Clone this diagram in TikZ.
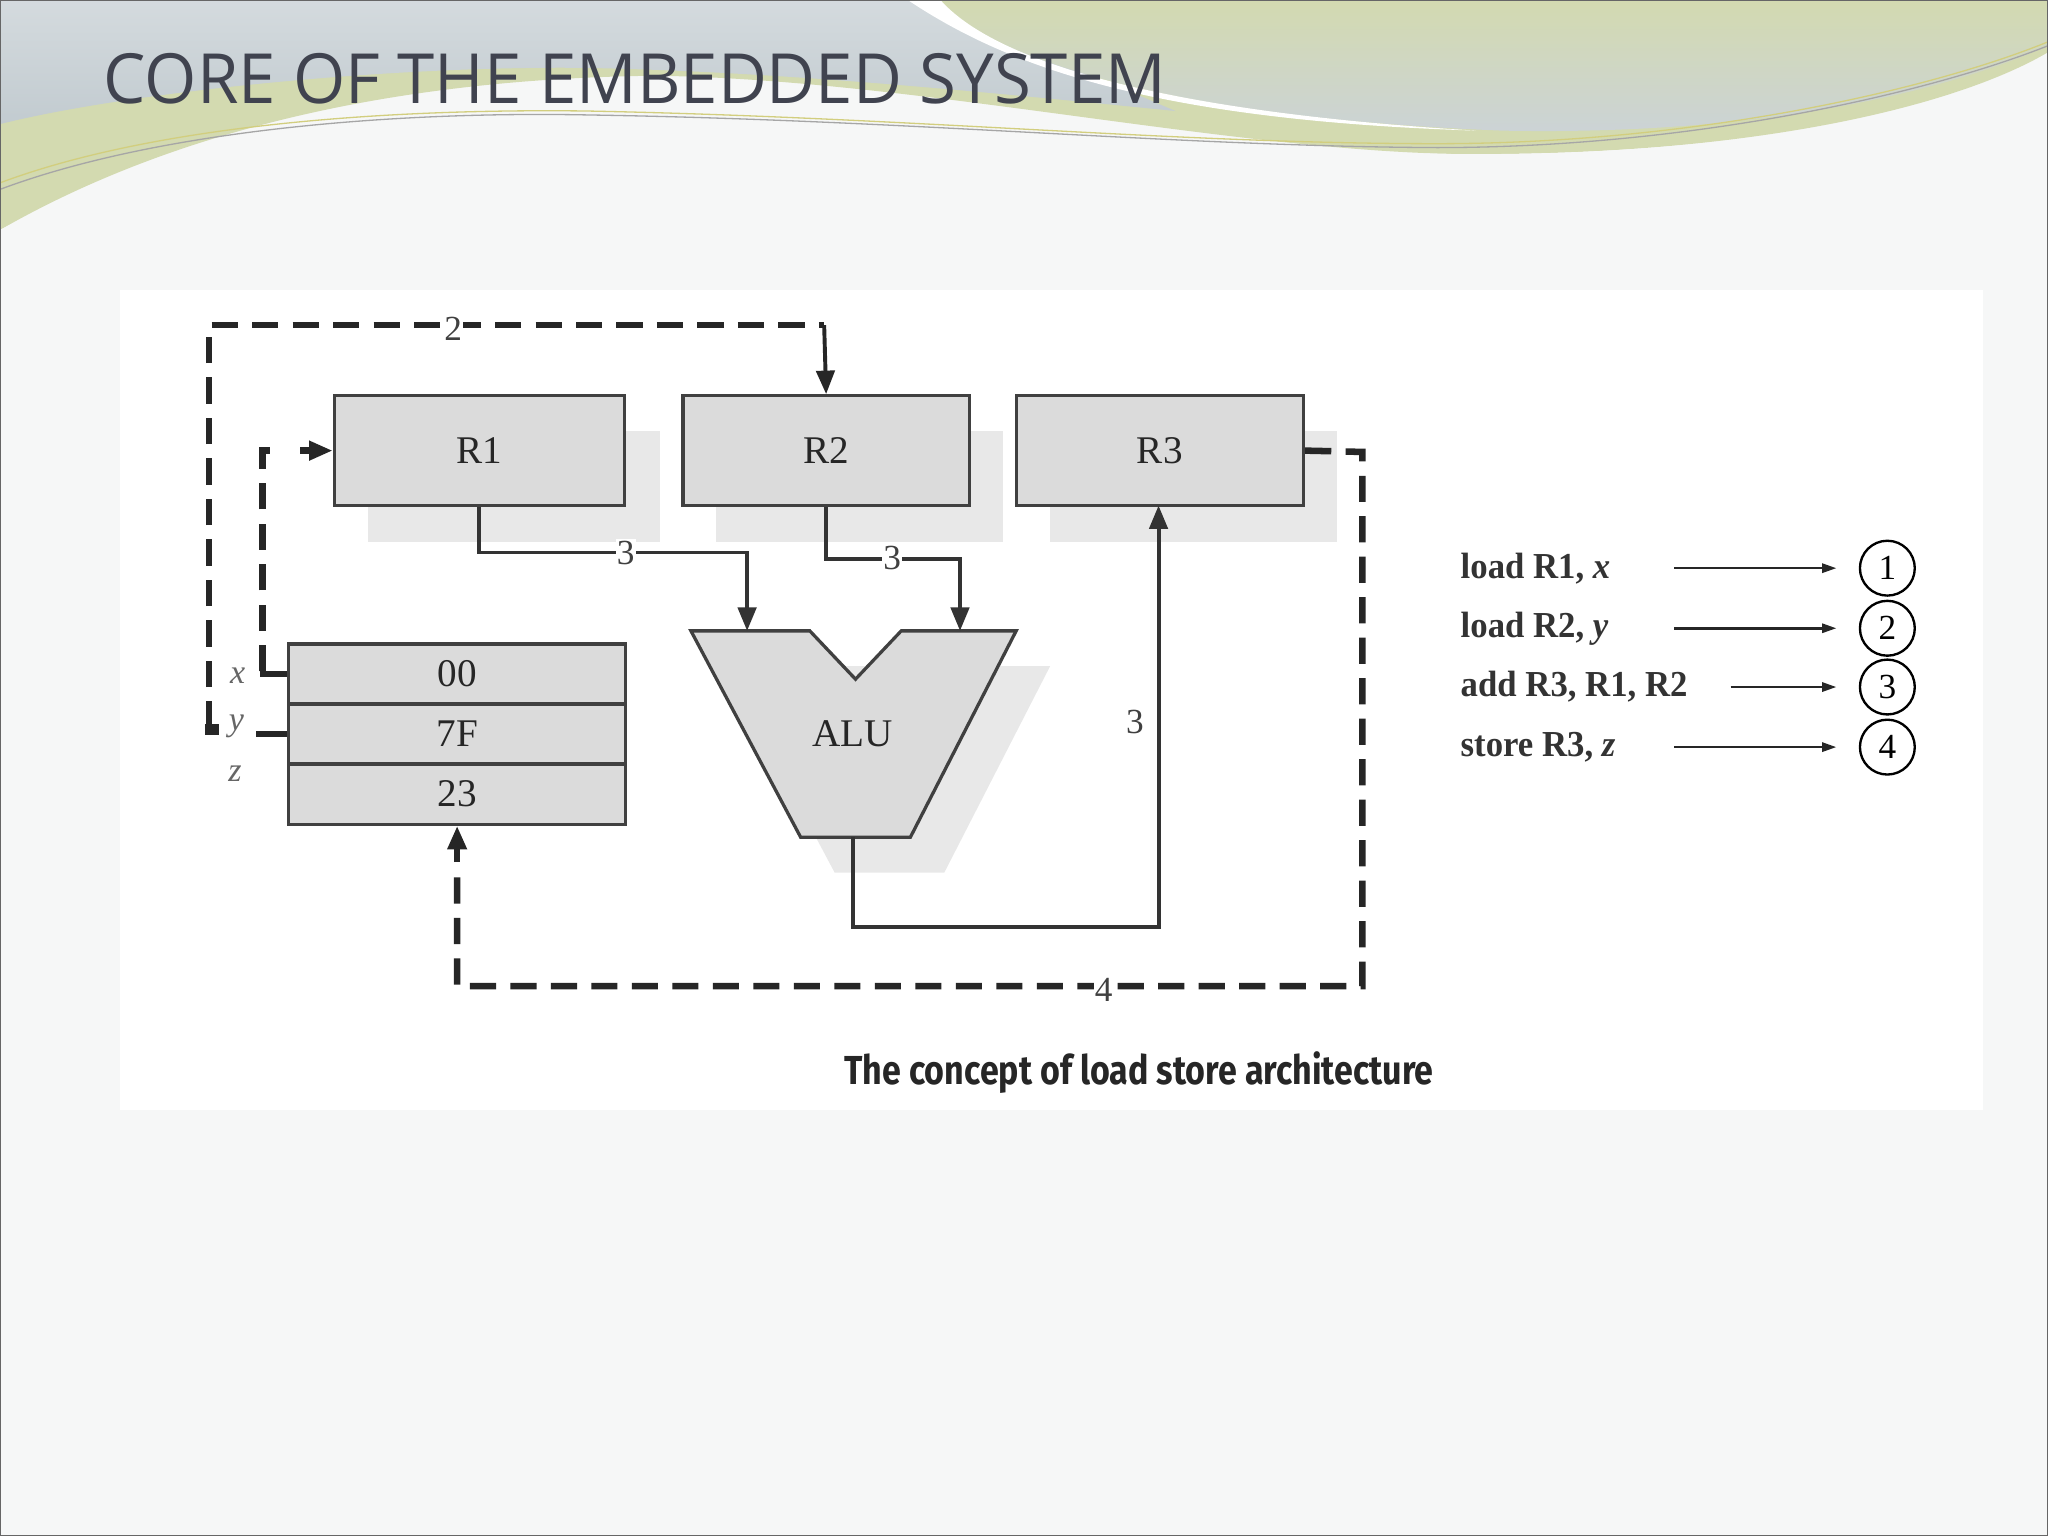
\documentclass[tikz,border=0pt]{standalone}
\usepackage{fontspec}
\setmainfont{Liberation Serif}
\newfontfamily\titlefont{Open Sans}
\newfontfamily\capfont{Fira Sans}
\usetikzlibrary{arrows.meta}
\definecolor{bg}{HTML}{F6F7F7}
\definecolor{hblue}{HTML}{C2CBD0}
\definecolor{hgreen}{HTML}{D3DAB0}
\definecolor{ttl}{HTML}{40434F}
\begin{document}
\begin{tikzpicture}[x=1pt,y=-1pt,
  reg/.style={draw=black!75,line width=2.5pt,fill=black!14},
  shad/.style={fill=black!9,draw=none},
  wire/.style={draw=black!80,line width=3pt},
  dashw/.style={draw=black!85,line width=5pt,dash pattern=on 20pt off 11pt},
  arr/.style={-{Triangle[length=18pt,width=14pt]}},
  lbl/.style={font=\fontsize{27}{29}\selectfont,text=black!75,fill=white,inner sep=1pt},
  ins/.style={font=\bfseries\fontsize{28}{30}\selectfont,text=black!80,anchor=west,xscale=0.95},
  rtxt/.style={font=\fontsize{30}{32}\selectfont,text=black!85},
  num/.style={circle,draw=black,line width=1.8pt,minimum size=42pt,inner sep=0pt,font=\fontsize{27}{29}\selectfont}]
\useasboundingbox (0,0) rectangle (1568,1176);
\fill[bg] (0,0) rectangle (1568,1176);
% header
\fill[hgreen] (0,176) .. controls (150,90) and (330,60) .. (500,58) .. controls (700,60) and (950,118) .. (1130,118) .. controls (1350,118) and (1500,80) .. (1568,40) -- (1568,0) -- (0,0) -- cycle;
\shade[top color=hblue!70,bottom color=hblue] (0,95) .. controls (100,70) and (300,50) .. (450,52) .. controls (600,55) and (750,70) .. (900,85) -- (700,0) -- (0,0) -- cycle;
\shade[top color=hgreen,bottom color=hblue!85] (705,0) .. controls (780,50) and (900,90) .. (1150,100) .. controls (1350,104) and (1490,70) .. (1568,35) -- (1568,0) -- cycle;
\fill[bg] (0,176) .. controls (150,100) and (330,88) .. (500,88) .. controls (700,90) and (950,118) .. (1130,118) .. controls (1350,118) and (1500,80) .. (1568,60) -- (1568,220) -- (0,220) -- cycle;
\fill[white] (695,0) .. controls (770,50) and (880,92) .. (1130,100) .. controls (880,85) and (760,45) .. (720,0) -- cycle;
\draw[black!35,line width=1pt] (0,145) .. controls (120,100) and (300,85) .. (450,88) .. controls (700,92) and (900,112) .. (1100,113) .. controls (1300,113) and (1480,70) .. (1568,35);
\draw[olive!40,line width=1pt] (0,140) .. controls (120,95) and (300,83) .. (450,85) .. controls (700,90) and (900,110) .. (1100,110) .. controls (1300,110) and (1480,68) .. (1568,32);
\node[anchor=west,font=\titlefont\fontsize{53}{56}\selectfont,text=ttl,xscale=0.97] (title) at (76,60) {CORE OF THE EMBEDDED SYSTEM};
% panel
\fill[white] (92,222) rectangle (1518,850);
% shadows
\fill[shad] (282,330) rectangle (505,415);
\fill[shad] (548,330) rectangle (768,415);
\fill[shad] (804,330) rectangle (1024,415);
\fill[shad] (555,510) -- (804,510) -- (723,668) -- (639,668) -- cycle;
% registers
\node[reg,minimum width=222pt,minimum height=84pt,rtxt] (R1) at (367,345) {R1};
\node[reg,minimum width=219pt,minimum height=84pt,rtxt] (R2) at (632.5,345) {R2};
\node[reg,minimum width=220pt,minimum height=84pt,rtxt] (R3) at (888,345) {R3};
% memory
\node[reg,minimum width=258pt,minimum height=46pt,rtxt] (m0) at (350,516) {00};
\node[reg,minimum width=258pt,minimum height=46pt,rtxt] (m1) at (350,562) {7F};
\node[reg,minimum width=258pt,minimum height=46pt,rtxt] (m2) at (350,608) {23};
% ALU
\draw[reg] (529,483) -- (620,483) -- (655,520) -- (690,483) -- (778,483) -- (697,641) -- (613,641) -- cycle;
\node[rtxt] (alu) at (653,562) {ALU};
\coordinate (aluL) at (572,483); \coordinate (aluR) at (735,483); \coordinate (aluB) at (653,641);
% solid wires
\draw[wire,arr] (R1.south) |- (479,423) -| (aluL);
\node[lbl] (l3a) at (479,423) {3};
\draw[wire,arr] (R2.south) |- (683,428) -| (aluR);
\node[lbl] (l3b) at (683,427) {3};
\draw[wire,arr] (aluB) |- (887,710) -- (887,387);
\node[lbl] (l3c) at (869,553) {3};
% memory address labels
\node[font=\itshape\fontsize{26}{28}\selectfont,text=black!60] (x) at (182,517) {x};
\node[font=\itshape\fontsize{26}{28}\selectfont,text=black!60] (y) at (181,556) {y};
\node[font=\itshape\fontsize{26}{28}\selectfont,text=black!60] (z) at (180,592) {z};
\draw[black!85,line width=5pt] (199,516) -- (m0.west);
\draw[black!85,line width=5pt] (196,562) -- (m1.west);
% dashed paths
\draw[dashw] (160,557) -- (160,249) -- (631,249);
\draw[black!85,line width=3pt,arr] (631,249) -- (R2.north);
\node[lbl] (l2) at (347,252) {2};
\fill[black!85] (157,554) rectangle (168,563);
\draw[dashw,dash pattern=on 20pt off 11pt,dash phase=0pt] (201,514) -- (201,345) -- (214,345);
\draw[black!85,line width=5pt,arr] (230,345) -- (R1.west);
\draw[dashw] (R3.east) -- (1043,346) -- (1043,755) -- (350,755) -- (350,662);
\draw[black!85,line width=5pt,arr] (350,660) -- (m2.south);
\node[lbl] (l4) at (845,758) {4};
% instructions
\foreach \t/\yy/\n/\sx in {{load R1, \textit{x}}/435/1/1282,{load R2, \textit{y}}/481/2/1282,{add R3, R1, R2}/526/3/1325,{store R3, \textit{z}}/572/4/1282}{
  \node[ins] (i\n) at (1115,\yy) {\t};
  \node[num] (c\n) at (1445,\yy) {\n};
  \coordinate (s\n) at (\sx,\yy);
  \draw[black!85,line width=2pt,-{Triangle[length=11pt,width=7pt]}] (s\n) -- (1406,\yy);
}
\node[font=\capfont\bfseries\fontsize{31}{34}\selectfont,text=black!85,xscale=0.84] (cap) at (872,821) {The concept of load store architecture};
\draw[black!60,line width=1pt] (0.5,0.5) rectangle (1567.5,1175.5);
\end{tikzpicture}
\end{document}
